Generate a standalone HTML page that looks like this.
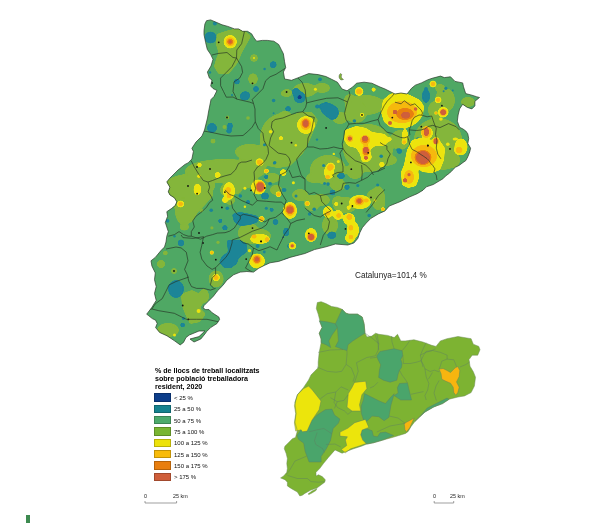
<!DOCTYPE html>
<html><head><meta charset="utf-8"><style>
html,body{margin:0;padding:0;background:#fff;}
.t,.lb,.sc{will-change:transform;}
body{width:609px;height:523px;position:relative;overflow:hidden;font-family:"Liberation Sans",sans-serif;}
.t{position:absolute;white-space:nowrap;color:#222;line-height:1;}
.sw{position:absolute;left:154px;width:17px;height:8.5px;box-sizing:border-box;border:0.5px solid rgba(0,0,0,0.22);}
.lb{position:absolute;left:174px;font-size:6px;line-height:1;color:#111;white-space:nowrap;}
.sc{position:absolute;font-size:5.4px;line-height:1;color:#222;white-space:nowrap;}
</style></head><body>
<svg width="609" height="523" viewBox="0 0 609 523" style="position:absolute;left:0;top:0">
<defs><clipPath id="ct"><polygon points="204.9,24.0 206.5,20.7 210.6,19.9 216.3,22.3 222.0,24.8 227.8,26.4 234.4,28.9 238.5,28.9 242.6,31.3 247.5,31.3 251.6,33.8 254.0,37.9 256.6,41.2 262.3,40.4 267.2,40.4 273.8,41.2 278.7,44.5 281.2,49.4 283.4,53.8 284.6,61.8 285.7,67.6 283.4,72.0 284.6,79.0 291.5,80.3 299.0,77.4 308.7,73.6 318.2,74.6 325.9,76.5 331.6,79.3 337.4,82.2 342.0,89.0 347.0,90.8 352.7,87.0 356.5,83.2 364.1,82.2 371.8,83.2 380.0,87.0 385.0,89.0 395.0,94.0 401.0,93.0 407.0,94.0 411.5,88.3 415.3,85.2 421.4,82.9 427.5,79.9 432.1,78.3 440.5,76.1 444.3,77.6 450.5,76.8 455.0,81.4 462.7,82.9 463.5,86.8 465.7,93.6 471.9,95.2 476.5,96.7 479.5,97.5 474.9,101.3 474.9,105.9 471.9,108.9 467.3,107.4 462.7,104.3 459.6,108.9 458.1,115.0 457.3,121.2 459.6,127.3 463.0,129.0 465.8,131.0 467.8,133.8 468.7,138.6 467.8,143.4 470.6,148.2 469.7,152.0 467.8,156.8 465.8,160.6 463.0,162.5 459.1,165.4 455.3,167.3 452.4,170.2 449.6,173.1 445.7,175.9 442.9,178.8 439.1,181.0 433.3,184.5 426.4,186.8 423.0,190.2 417.2,193.7 409.2,197.1 400.0,201.7 389.3,206.0 385.0,210.9 378.4,213.9 370.7,218.5 366.2,223.1 362.3,227.7 360.0,232.3 357.8,238.4 353.9,243.0 347.8,245.0 335.4,244.0 326.0,246.8 314.4,249.6 304.9,253.5 290.0,257.4 278.7,261.4 270.0,262.8 264.3,265.4 258.9,268.1 253.5,272.1 246.9,271.5 240.2,272.1 233.5,274.8 226.8,280.2 222.8,285.5 217.4,290.9 213.4,296.2 208.0,301.6 204.0,305.6 203.0,308.0 205.7,309.6 209.0,309.6 212.2,312.8 218.8,317.0 219.6,319.4 217.0,323.5 210.6,327.6 206.5,331.7 204.9,334.0 200.8,339.0 194.0,342.0 190.0,339.0 199.0,336.6 204.9,331.0 199.0,331.0 189.3,335.0 186.0,337.5 183.5,342.4 180.2,344.9 174.5,340.8 167.0,335.8 159.7,332.5 155.6,327.6 157.2,323.5 155.6,320.2 152.3,318.6 148.2,315.3 146.7,314.2 151.9,307.3 156.2,300.4 154.5,293.5 156.2,286.6 154.5,279.7 155.3,272.9 151.9,266.0 151.0,260.8 155.3,257.4 161.0,250.5 164.5,247.0 166.0,242.0 166.8,236.2 168.3,231.6 166.8,227.0 165.3,222.4 167.6,216.3 166.8,211.7 171.4,208.6 175.2,205.6 176.8,201.8 174.5,197.9 169.9,194.9 168.3,191.8 169.9,187.2 166.8,181.9 169.9,178.1 173.0,175.0 178.0,170.0 185.0,164.4 188.1,162.9 191.9,159.0 193.4,151.4 191.9,148.3 196.0,142.0 202.0,136.0 204.5,130.0 206.0,124.0 207.5,118.0 208.5,112.0 209.5,107.0 211.0,99.5 214.0,96.5 217.0,90.5 213.0,88.5 210.7,86.0 212.0,80.0 209.4,78.1 207.4,72.1 211.0,66.0 213.0,59.3 210.6,54.3 207.3,49.4 205.7,42.8 204.0,34.6 204.0,30.5"/></clipPath><filter id="goo" x="-10%" y="-10%" width="120%" height="120%"><feGaussianBlur in="SourceGraphic" stdDeviation="1.1"/><feColorMatrix values="1 0 0 0 0  0 1 0 0 0  0 0 1 0 0  0 0 0 7 -2.8"/></filter></defs>
<polygon points="204.9,24.0 206.5,20.7 210.6,19.9 216.3,22.3 222.0,24.8 227.8,26.4 234.4,28.9 238.5,28.9 242.6,31.3 247.5,31.3 251.6,33.8 254.0,37.9 256.6,41.2 262.3,40.4 267.2,40.4 273.8,41.2 278.7,44.5 281.2,49.4 283.4,53.8 284.6,61.8 285.7,67.6 283.4,72.0 284.6,79.0 291.5,80.3 299.0,77.4 308.7,73.6 318.2,74.6 325.9,76.5 331.6,79.3 337.4,82.2 342.0,89.0 347.0,90.8 352.7,87.0 356.5,83.2 364.1,82.2 371.8,83.2 380.0,87.0 385.0,89.0 395.0,94.0 401.0,93.0 407.0,94.0 411.5,88.3 415.3,85.2 421.4,82.9 427.5,79.9 432.1,78.3 440.5,76.1 444.3,77.6 450.5,76.8 455.0,81.4 462.7,82.9 463.5,86.8 465.7,93.6 471.9,95.2 476.5,96.7 479.5,97.5 474.9,101.3 474.9,105.9 471.9,108.9 467.3,107.4 462.7,104.3 459.6,108.9 458.1,115.0 457.3,121.2 459.6,127.3 463.0,129.0 465.8,131.0 467.8,133.8 468.7,138.6 467.8,143.4 470.6,148.2 469.7,152.0 467.8,156.8 465.8,160.6 463.0,162.5 459.1,165.4 455.3,167.3 452.4,170.2 449.6,173.1 445.7,175.9 442.9,178.8 439.1,181.0 433.3,184.5 426.4,186.8 423.0,190.2 417.2,193.7 409.2,197.1 400.0,201.7 389.3,206.0 385.0,210.9 378.4,213.9 370.7,218.5 366.2,223.1 362.3,227.7 360.0,232.3 357.8,238.4 353.9,243.0 347.8,245.0 335.4,244.0 326.0,246.8 314.4,249.6 304.9,253.5 290.0,257.4 278.7,261.4 270.0,262.8 264.3,265.4 258.9,268.1 253.5,272.1 246.9,271.5 240.2,272.1 233.5,274.8 226.8,280.2 222.8,285.5 217.4,290.9 213.4,296.2 208.0,301.6 204.0,305.6 203.0,308.0 205.7,309.6 209.0,309.6 212.2,312.8 218.8,317.0 219.6,319.4 217.0,323.5 210.6,327.6 206.5,331.7 204.9,334.0 200.8,339.0 194.0,342.0 190.0,339.0 199.0,336.6 204.9,331.0 199.0,331.0 189.3,335.0 186.0,337.5 183.5,342.4 180.2,344.9 174.5,340.8 167.0,335.8 159.7,332.5 155.6,327.6 157.2,323.5 155.6,320.2 152.3,318.6 148.2,315.3 146.7,314.2 151.9,307.3 156.2,300.4 154.5,293.5 156.2,286.6 154.5,279.7 155.3,272.9 151.9,266.0 151.0,260.8 155.3,257.4 161.0,250.5 164.5,247.0 166.0,242.0 166.8,236.2 168.3,231.6 166.8,227.0 165.3,222.4 167.6,216.3 166.8,211.7 171.4,208.6 175.2,205.6 176.8,201.8 174.5,197.9 169.9,194.9 168.3,191.8 169.9,187.2 166.8,181.9 169.9,178.1 173.0,175.0 178.0,170.0 185.0,164.4 188.1,162.9 191.9,159.0 193.4,151.4 191.9,148.3 196.0,142.0 202.0,136.0 204.5,130.0 206.0,124.0 207.5,118.0 208.5,112.0 209.5,107.0 211.0,99.5 214.0,96.5 217.0,90.5 213.0,88.5 210.7,86.0 212.0,80.0 209.4,78.1 207.4,72.1 211.0,66.0 213.0,59.3 210.6,54.3 207.3,49.4 205.7,42.8 204.0,34.6 204.0,30.5" fill="#4fa864"/>
<g clip-path="url(#ct)">
<g fill="#84b63a" filter="url(#goo)"><polygon points="216.8,34.1 228.2,30.3 236.8,28.4 245.4,31.3 251.2,36 241.6,53.2 237.8,62.8 232,70 228.2,74.3 218.7,74.3 213.9,66.6 216.8,57 218.7,53.2 215.8,43.7"/><ellipse cx="254.0" cy="58.0" rx="3.8" ry="3.8"/><ellipse cx="253.0" cy="79.0" rx="4.8" ry="5.7"/><ellipse cx="283.7" cy="93.4" rx="2.9" ry="2.9"/><ellipse cx="227.4" cy="117.4" rx="2.2" ry="2.2"/><ellipse cx="213.0" cy="141.0" rx="2.6" ry="2.6"/><ellipse cx="242.7" cy="152.0" rx="6.0" ry="5.0"/><ellipse cx="287.0" cy="93.0" rx="5.0" ry="4.0"/><ellipse cx="305.0" cy="90.0" rx="12.0" ry="7.0"/><ellipse cx="322.0" cy="88.0" rx="8.0" ry="5.0"/><ellipse cx="285.0" cy="115.0" rx="6.0" ry="4.0"/><polygon points="262,130 275,120 290,116 300,112 312,112 318,120 312,135 306,148 298,158 290,166 278,168 268,166 262,156 260,146"/><ellipse cx="256.0" cy="160.0" rx="10.0" ry="8.0"/><ellipse cx="250.0" cy="170.0" rx="16.0" ry="8.0"/><ellipse cx="230.0" cy="172.0" rx="20.0" ry="6.0"/><ellipse cx="210.0" cy="172.0" rx="14.0" ry="7.0"/><ellipse cx="196.0" cy="178.0" rx="10.0" ry="8.0"/><polygon points="172,178 185,174 205,176 212,182 213,196 205,205 198,212 192,222 186,224 182,212 174,208 168,196"/><ellipse cx="184.4" cy="227.0" rx="4.6" ry="3.4"/><ellipse cx="245.0" cy="182.0" rx="14.0" ry="6.0"/><ellipse cx="272.0" cy="178.0" rx="8.0" ry="5.0"/><ellipse cx="365.0" cy="105.0" rx="20.0" ry="10.0"/><ellipse cx="350.0" cy="100.0" rx="6.0" ry="6.0"/><ellipse cx="340.0" cy="118.0" rx="8.0" ry="6.0"/><ellipse cx="392.0" cy="102.0" rx="10.0" ry="6.0"/><ellipse cx="438.0" cy="130.0" rx="14.0" ry="8.0"/><ellipse cx="447.0" cy="148.0" rx="12.0" ry="14.0"/><ellipse cx="425.0" cy="150.0" rx="14.0" ry="16.0"/><ellipse cx="452.0" cy="160.0" rx="8.0" ry="8.0"/><ellipse cx="400.0" cy="140.0" rx="10.0" ry="10.0"/><ellipse cx="385.0" cy="160.0" rx="12.0" ry="6.0"/><ellipse cx="355.0" cy="170.0" rx="10.0" ry="6.0"/><ellipse cx="325.0" cy="178.0" rx="8.0" ry="6.0"/><ellipse cx="276.0" cy="190.0" rx="6.0" ry="5.0"/><ellipse cx="300.0" cy="195.0" rx="8.0" ry="6.0"/><ellipse cx="320.0" cy="200.0" rx="10.0" ry="6.0"/><ellipse cx="345.0" cy="205.0" rx="12.0" ry="8.0"/><ellipse cx="330.0" cy="225.0" rx="8.0" ry="10.0"/><ellipse cx="375.0" cy="195.0" rx="8.0" ry="6.0"/><ellipse cx="380.0" cy="205.0" rx="5.0" ry="4.0"/><ellipse cx="255.0" cy="236.0" rx="16.0" ry="8.0"/><ellipse cx="250.0" cy="230.0" rx="8.0" ry="6.0"/><ellipse cx="237.0" cy="186.0" rx="6.0" ry="8.0"/><ellipse cx="228.0" cy="190.0" rx="8.0" ry="7.0"/><ellipse cx="216.1" cy="279.0" rx="7.5" ry="8.5"/><ellipse cx="204.0" cy="296.0" rx="5.0" ry="7.0"/><ellipse cx="161.0" cy="264.0" rx="4.0" ry="4.0"/><ellipse cx="174.0" cy="271.0" rx="3.0" ry="3.0"/><polygon points="181,294 192,290 200,294 204,302 200,308 206,314 200,322 190,324 186,316 182,306"/><ellipse cx="168.0" cy="330.0" rx="11.0" ry="7.0"/><ellipse cx="165.3" cy="253.0" rx="2.5" ry="2.5"/><ellipse cx="171.4" cy="187.2" rx="2.5" ry="2.5"/><ellipse cx="438.0" cy="140.0" rx="24.0" ry="22.0"/><ellipse cx="440.0" cy="160.0" rx="20.0" ry="10.0"/><ellipse cx="435.0" cy="110.0" rx="7.0" ry="9.0"/><ellipse cx="445.0" cy="100.0" rx="10.0" ry="12.0"/><ellipse cx="468.0" cy="102.0" rx="7.0" ry="5.0"/><ellipse cx="440.0" cy="88.0" rx="5.0" ry="4.0"/><ellipse cx="356.0" cy="112.0" rx="11.0" ry="11.0"/><ellipse cx="368.0" cy="148.0" rx="25.0" ry="24.0"/><ellipse cx="314.0" cy="178.0" rx="8.0" ry="5.0"/><ellipse cx="355.0" cy="172.0" rx="8.0" ry="7.0"/><ellipse cx="312.0" cy="203.0" rx="8.0" ry="8.0"/><ellipse cx="338.0" cy="202.0" rx="6.0" ry="6.0"/><ellipse cx="378.0" cy="198.0" rx="7.0" ry="12.0"/><ellipse cx="249.0" cy="233.0" rx="11.0" ry="10.0"/><ellipse cx="232.0" cy="175.0" rx="8.0" ry="5.0"/><ellipse cx="328.0" cy="170.0" rx="18.0" ry="15.0"/><ellipse cx="338.0" cy="185.0" rx="8.0" ry="6.0"/><ellipse cx="230.0" cy="200.0" rx="5.0" ry="5.0"/><ellipse cx="284.0" cy="138.0" rx="24.0" ry="25.0"/><ellipse cx="254.0" cy="160.0" rx="14.0" ry="15.0"/><ellipse cx="190.0" cy="186.0" rx="25.0" ry="12.0"/><ellipse cx="183.0" cy="211.0" rx="8.0" ry="13.0"/><ellipse cx="225.0" cy="171.0" rx="40.0" ry="12.0"/><ellipse cx="250.0" cy="152.0" rx="15.0" ry="8.0"/></g>
<g fill="#84b63a"><ellipse cx="224.5" cy="127.0" rx="2.0" ry="2.0"/><ellipse cx="248.0" cy="118.0" rx="1.8" ry="1.8"/><ellipse cx="201.2" cy="210.2" rx="2.0" ry="2.0"/><ellipse cx="211.9" cy="227.8" rx="1.6" ry="1.6"/><ellipse cx="218.0" cy="242.3" rx="1.6" ry="1.6"/></g>
<g fill="#1b8597" filter="url(#goo)"><ellipse cx="210.5" cy="37.5" rx="6.0" ry="6.0"/><ellipse cx="273.2" cy="64.7" rx="3.4" ry="3.4"/><ellipse cx="236.8" cy="81.5" rx="3.0" ry="3.0"/><ellipse cx="256.0" cy="89.0" rx="3.0" ry="3.0"/><ellipse cx="245.4" cy="95.4" rx="4.8" ry="4.2"/><ellipse cx="287.5" cy="108.7" rx="2.3" ry="2.3"/><ellipse cx="212.0" cy="128.0" rx="5.0" ry="5.0"/><ellipse cx="230.0" cy="126.0" rx="2.8" ry="3.4"/><ellipse cx="229.0" cy="131.0" rx="2.8" ry="2.6"/><ellipse cx="244.6" cy="96.5" rx="5.0" ry="4.0"/><ellipse cx="299.6" cy="97.3" rx="6.0" ry="6.0"/><ellipse cx="296.0" cy="92.0" rx="4.0" ry="4.0"/><ellipse cx="288.2" cy="108.8" rx="2.75" ry="2.75"/><ellipse cx="317.2" cy="106.5" rx="2.3" ry="2.3"/><polygon points="320,104 326,102 332,104 338,108 339,114 336,119 331,120 327,117 322,113 320,108"/><ellipse cx="426.0" cy="96.0" rx="4.0" ry="7.0"/><ellipse cx="399.4" cy="151.1" rx="2.8" ry="2.8"/><ellipse cx="347.0" cy="187.2" rx="2.75" ry="2.75"/><ellipse cx="332.5" cy="192.5" rx="3.0" ry="3.0"/><ellipse cx="341.0" cy="176.0" rx="4.0" ry="3.0"/><ellipse cx="331.8" cy="235.3" rx="4.6" ry="3.8"/><ellipse cx="265.0" cy="196.0" rx="4.0" ry="3.5"/><polygon points="232,214 240,212 250,214 258,216 258,222 250,225 240,226 234,222"/><ellipse cx="275.5" cy="222.0" rx="3.0" ry="3.0"/><ellipse cx="266.3" cy="176.9" rx="2.3" ry="2.3"/><ellipse cx="248.0" cy="202.1" rx="2.3" ry="2.3"/><ellipse cx="271.6" cy="209.8" rx="2.3" ry="2.3"/><ellipse cx="286.2" cy="232.0" rx="3.0" ry="4.5"/><polygon points="226.8,240 240,240 246.9,244 247,252 240,257 236,262 232,268 224,268 219,262 222,256 228,252"/><ellipse cx="181.0" cy="243.0" rx="3.4" ry="3.4"/><ellipse cx="220.3" cy="220.9" rx="2.3" ry="2.3"/><ellipse cx="224.9" cy="227.8" rx="2.75" ry="2.75"/><ellipse cx="176.0" cy="289.0" rx="8.0" ry="9.0"/><ellipse cx="232.0" cy="260.0" rx="6.0" ry="6.0"/><ellipse cx="182.7" cy="325.0" rx="2.5" ry="2.5"/><ellipse cx="341.8" cy="175.0" rx="2.5" ry="2.5"/></g>
<g fill="#1b8597"><ellipse cx="214.9" cy="23.6" rx="2.0" ry="2.0"/><ellipse cx="264.6" cy="69.0" rx="1.3" ry="1.3"/><ellipse cx="232.0" cy="95.0" rx="1.1" ry="1.1"/><ellipse cx="273.6" cy="100.5" rx="1.8" ry="1.8"/><ellipse cx="210.0" cy="72.4" rx="1.2" ry="1.2"/><ellipse cx="273.6" cy="113.3" rx="1.0" ry="1.0"/><ellipse cx="320.0" cy="79.3" rx="1.9" ry="1.9"/><ellipse cx="354.4" cy="121.0" rx="1.8" ry="1.8"/><ellipse cx="264.5" cy="144.7" rx="1.5" ry="1.5"/><ellipse cx="274.4" cy="163.0" rx="1.5" ry="1.5"/><ellipse cx="426.0" cy="90.0" rx="2.0" ry="3.0"/><ellipse cx="427.5" cy="166.0" rx="1.8" ry="1.8"/><ellipse cx="418.0" cy="139.0" rx="1.8" ry="1.8"/><ellipse cx="381.2" cy="156.2" rx="1.8" ry="1.8"/><ellipse cx="398.0" cy="150.0" rx="1.8" ry="1.8"/><ellipse cx="328.0" cy="184.1" rx="1.8" ry="1.8"/><ellipse cx="357.8" cy="185.6" rx="1.5" ry="1.5"/><ellipse cx="377.6" cy="184.9" rx="1.5" ry="1.5"/><ellipse cx="314.2" cy="209.3" rx="1.8" ry="1.8"/><ellipse cx="309.6" cy="214.0" rx="1.8" ry="1.8"/><ellipse cx="369.2" cy="215.5" rx="1.8" ry="1.8"/><ellipse cx="270.1" cy="183.8" rx="1.8" ry="1.8"/><ellipse cx="240.3" cy="196.0" rx="1.8" ry="1.8"/><ellipse cx="227.3" cy="208.2" rx="1.8" ry="1.8"/><ellipse cx="266.3" cy="208.2" rx="1.5" ry="1.5"/><ellipse cx="257.6" cy="246.0" rx="2.0" ry="2.0"/><ellipse cx="264.3" cy="252.0" rx="1.4" ry="1.4"/><ellipse cx="211.2" cy="210.2" rx="1.8" ry="1.8"/><ellipse cx="167.6" cy="220.9" rx="1.8" ry="1.8"/><ellipse cx="174.5" cy="236.2" rx="1.2" ry="1.2"/><ellipse cx="183.5" cy="318.6" rx="1.5" ry="1.5"/><ellipse cx="288.0" cy="260.0" rx="4.0" ry="2.0"/><ellipse cx="290.0" cy="246.0" rx="3.0" ry="2.0"/><ellipse cx="274.9" cy="162.6" rx="1.5" ry="1.5"/><ellipse cx="265.3" cy="177.0" rx="1.5" ry="1.5"/><ellipse cx="270.0" cy="183.6" rx="1.5" ry="1.5"/><ellipse cx="323.6" cy="165.5" rx="1.5" ry="1.5"/><ellipse cx="324.6" cy="183.6" rx="1.5" ry="1.5"/><ellipse cx="317.0" cy="139.6" rx="1.2" ry="1.2"/><ellipse cx="284.0" cy="190.0" rx="2.5" ry="2.0"/><ellipse cx="296.0" cy="196.0" rx="1.5" ry="1.5"/><ellipse cx="445.9" cy="88.3" rx="1.6" ry="1.6"/><ellipse cx="443.6" cy="91.3" rx="1.0" ry="1.0"/><ellipse cx="452.8" cy="90.6" rx="1.0" ry="1.0"/></g>
<g fill="#0d3f8a" filter="url(#goo)"><ellipse cx="299.6" cy="97.3" rx="2.3" ry="2.3"/></g>
<g fill="#0d3f8a"><ellipse cx="283.1" cy="237.3" rx="0.8" ry="0.8"/></g>
<g fill="#ece40e" filter="url(#goo)"><polygon points="383,100 390,94 398,92 405,93 412,96 420,100 424,106 423,115 418,122 412,126 406,128 398,128 390,127 384,122 381,112"/><ellipse cx="405.0" cy="135.0" rx="3.0" ry="6.0"/><ellipse cx="427.0" cy="133.0" rx="6.0" ry="6.0"/><ellipse cx="436.0" cy="142.0" rx="4.0" ry="5.0"/><polygon points="407,150 412,140 420,138 430,140 440,141 445,148 444,160 440,170 432,173 422,172 418,168 419,178 416,186 408,188 402,185 401,172 404,165"/><polygon points="345,130 356,126 366,128 372,132 385,134 390,140 384,146 375,146 370,150 372,158 368,162 362,162 360,154 356,148 348,146 344,140"/><ellipse cx="381.9" cy="164.6" rx="2.75" ry="2.75"/><ellipse cx="389.6" cy="139.3" rx="2.3" ry="2.3"/><ellipse cx="306.0" cy="125.0" rx="9.0" ry="9.0"/><ellipse cx="329.0" cy="172.0" rx="5.0" ry="7.0"/><ellipse cx="360.0" cy="202.0" rx="11.0" ry="7.0"/><ellipse cx="328.0" cy="212.0" rx="5.0" ry="6.0"/><ellipse cx="338.0" cy="215.0" rx="5.0" ry="5.0"/><ellipse cx="349.0" cy="219.0" rx="6.0" ry="6.0"/><ellipse cx="353.0" cy="230.0" rx="6.0" ry="9.0"/><ellipse cx="350.0" cy="238.0" rx="5.0" ry="5.0"/><ellipse cx="336.3" cy="204.0" rx="2.3" ry="2.3"/><ellipse cx="348.6" cy="207.8" rx="2.3" ry="2.3"/><ellipse cx="311.0" cy="235.0" rx="6.0" ry="7.0"/><ellipse cx="290.0" cy="210.5" rx="7.0" ry="8.5"/><ellipse cx="258.5" cy="187.0" rx="7.5" ry="7.5"/><ellipse cx="229.0" cy="191.0" rx="6.0" ry="9.0"/><ellipse cx="197.4" cy="189.6" rx="3.8" ry="6.0"/><ellipse cx="260.0" cy="239.0" rx="10.0" ry="5.0"/><ellipse cx="257.0" cy="261.0" rx="8.0" ry="7.5"/><ellipse cx="225.0" cy="200.0" rx="3.0" ry="3.0"/><circle cx="230.2" cy="41.8" r="6.70"/><circle cx="359.1" cy="91.5" r="4.40"/><circle cx="373.6" cy="89.6" r="2.30"/><circle cx="362.0" cy="114.9" r="2.30"/><circle cx="438.1" cy="99.9" r="3.40"/><circle cx="433.0" cy="84.0" r="3.60"/><circle cx="443.2" cy="112.2" r="5.40"/><ellipse cx="461.0" cy="147.0" rx="6.5" ry="8.5"/><circle cx="459.1" cy="150.1" r="5.00"/><circle cx="404.2" cy="142.0" r="2.75"/><circle cx="330.7" cy="166.9" r="4.50"/><circle cx="307.3" cy="204.0" r="2.30"/><circle cx="383.0" cy="209.3" r="2.30"/><circle cx="259.0" cy="162.0" r="3.50"/><circle cx="266.0" cy="171.0" r="2.30"/><circle cx="281.0" cy="138.3" r="2.30"/><circle cx="259.9" cy="162.3" r="3.80"/><circle cx="266.8" cy="170.7" r="2.30"/><circle cx="283.6" cy="172.2" r="2.75"/><circle cx="283.4" cy="173.0" r="2.90"/><circle cx="199.5" cy="165.0" r="2.40"/><circle cx="217.7" cy="175.0" r="3.00"/><circle cx="180.6" cy="204.0" r="3.60"/><circle cx="217.3" cy="175.8" r="2.30"/><circle cx="216.1" cy="277.5" r="3.75"/><circle cx="261.7" cy="218.9" r="3.00"/><circle cx="278.5" cy="194.2" r="3.00"/><circle cx="266.3" cy="171.5" r="2.30"/><circle cx="283.1" cy="172.3" r="3.00"/><circle cx="292.3" cy="245.7" r="3.80"/><circle cx="307.2" cy="203.4" r="2.70"/></g>
<g fill="#ece40e"><ellipse cx="447.8" cy="144.3" rx="1.8" ry="1.8"/><ellipse cx="455.4" cy="138.9" rx="2.75" ry="1.5"/><ellipse cx="405.7" cy="134.3" rx="1.8" ry="1.8"/><ellipse cx="338.3" cy="161.5" rx="1.5" ry="1.5"/><ellipse cx="333.8" cy="153.9" rx="1.2" ry="1.2"/><circle cx="315.4" cy="89.3" r="1.50"/><circle cx="436.0" cy="113.0" r="1.80"/><circle cx="440.9" cy="119.0" r="1.80"/><circle cx="394.2" cy="112.6" r="1.00"/><circle cx="375.0" cy="200.5" r="1.20"/><circle cx="270.6" cy="131.7" r="1.80"/><circle cx="295.8" cy="145.2" r="1.20"/><circle cx="293.4" cy="182.7" r="1.50"/><circle cx="198.9" cy="176.2" r="1.80"/><circle cx="211.8" cy="252.7" r="2.00"/><circle cx="249.5" cy="250.7" r="1.60"/><circle cx="244.9" cy="188.3" r="1.50"/><circle cx="244.9" cy="206.7" r="1.20"/><circle cx="211.9" cy="252.2" r="1.80"/><circle cx="254.0" cy="58.0" r="1.00"/><circle cx="198.6" cy="311.0" r="2.00"/><circle cx="174.5" cy="335.0" r="1.50"/></g>
<g fill="#f6b90f" filter="url(#goo)"><ellipse cx="402.0" cy="112.0" rx="15.0" ry="11.0"/><ellipse cx="426.3" cy="132.0" rx="5.0" ry="6.0"/><ellipse cx="424.0" cy="156.0" rx="13.0" ry="11.0"/><ellipse cx="409.0" cy="177.0" rx="5.0" ry="7.0"/><ellipse cx="436.0" cy="141.0" rx="3.5" ry="3.5"/><ellipse cx="349.8" cy="138.6" rx="3.5" ry="3.5"/><ellipse cx="365.1" cy="140.0" rx="5.0" ry="5.0"/><ellipse cx="365.9" cy="151.0" rx="4.0" ry="6.0"/><ellipse cx="305.7" cy="124.0" rx="5.4" ry="6.0"/><ellipse cx="329.6" cy="168.0" rx="2.5" ry="3.0"/><ellipse cx="327.6" cy="177.0" rx="2.5" ry="2.5"/><ellipse cx="359.3" cy="201.0" rx="5.0" ry="4.5"/><ellipse cx="327.9" cy="213.2" rx="2.5" ry="2.5"/><ellipse cx="338.6" cy="215.5" rx="2.5" ry="2.5"/><ellipse cx="349.3" cy="217.0" rx="3.0" ry="3.0"/><ellipse cx="350.9" cy="227.7" rx="2.5" ry="3.0"/><ellipse cx="350.9" cy="236.9" rx="2.5" ry="2.5"/><ellipse cx="311.1" cy="236.9" rx="4.5" ry="4.5"/><ellipse cx="290.0" cy="210.0" rx="5.0" ry="6.0"/><ellipse cx="260.2" cy="186.8" rx="5.0" ry="6.0"/><ellipse cx="228.1" cy="189.9" rx="3.0" ry="3.0"/><ellipse cx="229.0" cy="196.0" rx="2.5" ry="2.5"/><ellipse cx="267.0" cy="239.6" rx="2.5" ry="2.5"/><ellipse cx="256.9" cy="259.4" rx="4.7" ry="4.7"/><circle cx="230.2" cy="41.8" r="4.56"/><circle cx="359.1" cy="91.5" r="2.99"/><circle cx="438.1" cy="99.9" r="2.31"/><circle cx="433.0" cy="84.0" r="2.45"/><circle cx="443.2" cy="112.2" r="3.67"/><circle cx="459.1" cy="150.1" r="3.40"/><circle cx="330.7" cy="166.9" r="3.06"/><circle cx="259.0" cy="162.0" r="2.38"/><circle cx="259.9" cy="162.3" r="2.58"/><circle cx="180.6" cy="204.0" r="2.45"/><circle cx="216.1" cy="277.5" r="2.55"/><circle cx="292.3" cy="245.7" r="2.47"/></g>
<g fill="#f6b90f"><ellipse cx="366.2" cy="200.5" rx="2.5" ry="2.0"/><ellipse cx="254.0" cy="236.5" rx="2.5" ry="2.0"/><circle cx="436.0" cy="113.0" r="1.22"/><circle cx="404.2" cy="142.0" r="1.87"/><circle cx="307.3" cy="204.0" r="1.56"/><circle cx="383.0" cy="209.3" r="1.56"/><circle cx="266.0" cy="171.0" r="1.56"/><circle cx="266.8" cy="170.7" r="1.56"/><circle cx="211.8" cy="252.7" r="1.36"/><circle cx="261.7" cy="218.9" r="2.04"/><circle cx="278.5" cy="194.2" r="2.04"/><circle cx="307.2" cy="203.4" r="1.84"/></g>
<g fill="#e8800f" filter="url(#goo)"><ellipse cx="405.0" cy="114.0" rx="9.0" ry="6.0"/><ellipse cx="423.0" cy="157.5" rx="8.5" ry="7.5"/><ellipse cx="365.1" cy="139.5" rx="3.5" ry="3.5"/><ellipse cx="365.9" cy="151.0" rx="3.0" ry="4.5"/><ellipse cx="305.7" cy="123.5" rx="3.8" ry="4.5"/><ellipse cx="311.1" cy="236.9" rx="3.5" ry="3.5"/><ellipse cx="290.0" cy="209.8" rx="4.2" ry="4.5"/><ellipse cx="260.2" cy="186.8" rx="4.4" ry="5.2"/><ellipse cx="256.9" cy="259.4" rx="3.5" ry="3.5"/><ellipse cx="359.3" cy="201.0" rx="3.5" ry="3.0"/><circle cx="230.2" cy="41.8" r="3.02"/><circle cx="443.2" cy="112.2" r="2.43"/></g>
<g fill="#cf5e3a" filter="url(#goo)"><ellipse cx="405.7" cy="115.2" rx="4.6" ry="3.4"/><ellipse cx="395.0" cy="112.0" rx="2.5" ry="2.5"/><ellipse cx="426.3" cy="132.0" rx="2.6" ry="4.2"/><ellipse cx="423.0" cy="157.5" rx="7.0" ry="6.5"/><ellipse cx="405.1" cy="180.4" rx="2.3" ry="2.3"/><ellipse cx="349.8" cy="138.6" rx="2.3" ry="2.3"/><ellipse cx="365.1" cy="138.6" rx="3.0" ry="3.0"/><ellipse cx="365.9" cy="150.0" rx="2.75" ry="3.2"/><ellipse cx="365.9" cy="157.7" rx="2.3" ry="2.3"/><ellipse cx="305.7" cy="123.5" rx="2.8" ry="3.6"/><ellipse cx="359.3" cy="200.9" rx="2.3" ry="2.3"/><ellipse cx="311.1" cy="236.9" rx="3.0" ry="3.0"/><ellipse cx="290.0" cy="209.8" rx="3.5" ry="3.2"/><ellipse cx="260.2" cy="186.8" rx="3.6" ry="4.3"/><ellipse cx="256.9" cy="259.4" rx="2.4" ry="2.4"/><ellipse cx="443.2" cy="112.2" rx="3.0" ry="3.0"/></g>
<g fill="#cf5e3a"><ellipse cx="415.6" cy="109.0" rx="1.8" ry="1.8"/><ellipse cx="390.0" cy="123.0" rx="2.0" ry="2.0"/><ellipse cx="435.6" cy="141.3" rx="2.0" ry="3.0"/><ellipse cx="409.0" cy="174.7" rx="1.6" ry="1.6"/><circle cx="230.2" cy="41.8" r="1.68"/><circle cx="443.2" cy="112.2" r="1.35"/><circle cx="292.3" cy="245.7" r="1.52"/></g>
<circle cx="218.7" cy="42.3" r="0.9" fill="#111"/><circle cx="252.5" cy="83.3" r="0.9" fill="#111"/><circle cx="286.6" cy="92.0" r="0.9" fill="#111"/><circle cx="212.0" cy="83.0" r="0.9" fill="#111"/><circle cx="227.0" cy="117.5" r="0.9" fill="#111"/><circle cx="362.0" cy="114.9" r="0.9" fill="#111"/><circle cx="392.3" cy="117.6" r="0.9" fill="#111"/><circle cx="441.9" cy="105.7" r="0.9" fill="#111"/><circle cx="421.3" cy="126.7" r="0.9" fill="#111"/><circle cx="427.9" cy="145.4" r="0.9" fill="#111"/><circle cx="450.0" cy="148.9" r="0.9" fill="#111"/><circle cx="410.9" cy="162.4" r="0.9" fill="#111"/><circle cx="427.8" cy="145.7" r="0.9" fill="#111"/><circle cx="368.2" cy="152.8" r="0.9" fill="#111"/><circle cx="351.3" cy="169.2" r="0.9" fill="#111"/><circle cx="326.1" cy="127.9" r="0.9" fill="#111"/><circle cx="291.5" cy="142.7" r="0.9" fill="#111"/><circle cx="371.0" cy="197.4" r="0.9" fill="#111"/><circle cx="341.7" cy="203.5" r="0.9" fill="#111"/><circle cx="352.4" cy="206.0" r="0.9" fill="#111"/><circle cx="345.5" cy="228.9" r="0.9" fill="#111"/><circle cx="308.8" cy="233.4" r="0.9" fill="#111"/><circle cx="251.0" cy="190.3" r="0.9" fill="#111"/><circle cx="264.8" cy="188.0" r="0.9" fill="#111"/><circle cx="261.2" cy="241.4" r="0.9" fill="#111"/><circle cx="252.5" cy="228.1" r="0.9" fill="#111"/><circle cx="197.1" cy="193.7" r="0.9" fill="#111"/><circle cx="224.9" cy="192.1" r="0.9" fill="#111"/><circle cx="221.9" cy="207.4" r="0.9" fill="#111"/><circle cx="215.8" cy="259.7" r="0.9" fill="#111"/><circle cx="246.2" cy="259.1" r="0.9" fill="#111"/><circle cx="260.9" cy="241.3" r="0.9" fill="#111"/><circle cx="182.7" cy="305.5" r="0.9" fill="#111"/><circle cx="188.4" cy="319.4" r="0.9" fill="#111"/><circle cx="174.0" cy="271.0" r="0.9" fill="#111"/><circle cx="199.0" cy="233.0" r="0.9" fill="#111"/><circle cx="203.0" cy="243.0" r="0.9" fill="#111"/><circle cx="188.0" cy="186.0" r="0.9" fill="#111"/><circle cx="210.0" cy="169.0" r="0.9" fill="#111"/><circle cx="197.0" cy="167.0" r="0.9" fill="#111"/>
<polyline points="212,55 218,53.5 227,52.5 233,57.5 236.5,58" fill="none" stroke="#263326" stroke-width="0.7" stroke-linejoin="round" opacity="0.95"/>
<polyline points="236.5,58 236.8,50 241.6,43.7 244.5,31.3" fill="none" stroke="#263326" stroke-width="0.7" stroke-linejoin="round" opacity="0.95"/>
<polyline points="236.5,58 241.6,66.6 242.6,72.4 239.7,78.1 234,81.9 233,91.5 236.8,99.1 249.3,102 253.5,103.5 255,109 255,115 255.3,121.8 252.2,127.1 247.6,131.7 243,135.5 231,136 221.7,134.6 211,132.3 203.5,131" fill="none" stroke="#263326" stroke-width="0.7" stroke-linejoin="round" opacity="0.95"/>
<polyline points="236.5,58 232,66.6 226.3,72.4 220.6,78.1 220.6,85.7 223.5,91.5 226.3,97.2 233,97 236.8,99.1" fill="none" stroke="#263326" stroke-width="0.7" stroke-linejoin="round" opacity="0.95"/>
<polyline points="253.5,103.5 252.2,99.5 256.2,95.5 262.9,88.8 265.6,80.8 270,76.8 276,74.3 281.8,70.5 285.5,68" fill="none" stroke="#263326" stroke-width="0.7" stroke-linejoin="round" opacity="0.95"/>
<polyline points="255.3,121.8 258.3,128.6 262.9,133.2 264,140.5 268,147.8 268.5,153.5 266,159.3 262,164 257.4,167 254,172 254.5,178 254,182.2 255.6,188.3 254,194.5 257.1,200.6 266.3,201.3 275.5,202.1 281.6,202.1 284.6,205.2" fill="none" stroke="#263326" stroke-width="0.7" stroke-linejoin="round" opacity="0.95"/>
<polyline points="297.5,77.6 302.1,82.2 305.2,89.9 305.9,97.5 306.7,102.9 305.7,107.2 302.7,111.8 296.6,112.6 290.5,114.9 282.8,118 275.2,119.5 272.1,121.8 271.3,127.1 273.6,131.7 270.6,137.8 269,145.5 278.2,153.1 285.9,154.6 289,157.7 290.5,162.3 289,166.9 286,172 280,175 279.3,179.2 278.5,185.3 281.6,193 286.2,200.6 284.6,205.2" fill="none" stroke="#263326" stroke-width="0.7" stroke-linejoin="round" opacity="0.95"/>
<polyline points="306.7,102.9 315.9,100.6 326.6,98.3 338,97.8 347.5,101.9 346,107.2 344.5,113.3 346,119.5 349,124 346.8,127.9 344.5,130.9 343.7,137.8 342.2,143.9 343,148.5 339.9,153.1 341.4,159.2 343,166.9 343,172 337.1,172.6 332.5,174.9 334.1,177.2" fill="none" stroke="#263326" stroke-width="0.7" stroke-linejoin="round" opacity="0.95"/>
<polyline points="347.5,101.9 350,95 349,91" fill="none" stroke="#263326" stroke-width="0.7" stroke-linejoin="round" opacity="0.95"/>
<polyline points="302.7,111.8 308.2,115.9 314.3,117.4 313,123 311.5,131 308,138 307.3,147 301.2,153.1 296.6,159.2 298.1,165.3 301.2,175 305,179.2 305,190.2 309.6,194.1 314.2,192.5 320.3,195.6 328,194.1 335.6,192.5 341.7,189.5 343.2,183.3 349.3,182.6 355.5,183.3 361.6,180.3 362.3,172.6 361.6,165" fill="none" stroke="#263326" stroke-width="0.7" stroke-linejoin="round" opacity="0.95"/>
<polyline points="289,170 292.3,177.6 299.9,176.1 305,179.2" fill="none" stroke="#263326" stroke-width="0.7" stroke-linejoin="round" opacity="0.95"/>
<polyline points="307.3,147 313.4,147 320,149 327.6,148.5 333.8,147 339.9,148.5 343,148.5" fill="none" stroke="#263326" stroke-width="0.7" stroke-linejoin="round" opacity="0.95"/>
<polyline points="361.6,180.3 367.7,177.2 372.3,172.6 378.4,171.1 385,168.1" fill="none" stroke="#263326" stroke-width="0.7" stroke-linejoin="round" opacity="0.95"/>
<polyline points="243.3,214.3 251,215.9 255.6,217.4 264.8,222 269.3,218.9 275.5,217.4 281.6,212.8 284.6,208.2 284.6,205.2" fill="none" stroke="#263326" stroke-width="0.7" stroke-linejoin="round" opacity="0.95"/>
<polyline points="225,189.9 229.6,194.5 234.2,196 241.8,200.6 252.5,205.2 257.1,200.6" fill="none" stroke="#263326" stroke-width="0.7" stroke-linejoin="round" opacity="0.95"/>
<polyline points="231.1,200.6 232.6,208.2 237.2,214.3 240.3,215.9 243.3,214.3" fill="none" stroke="#263326" stroke-width="0.7" stroke-linejoin="round" opacity="0.95"/>
<polyline points="240.3,215.9 240.3,218.9 237.2,223.5 234.2,228.1 229.6,231.2 225,232.7 217.3,233.1 212.7,234.6 206.6,236.2 200.5,239.2 191.3,236.2 188.2,236.2 183.6,234.6 179,231.6 174.5,234.6 168.3,236.2" fill="none" stroke="#263326" stroke-width="0.7" stroke-linejoin="round" opacity="0.95"/>
<polyline points="269.3,218.9 266.3,225 261.7,228.1 257.1,229.6 252.5,231.2 240.3,237.3" fill="none" stroke="#263326" stroke-width="0.7" stroke-linejoin="round" opacity="0.95"/>
<polyline points="281.6,212.8 286.2,217.4 290.7,223.5 289.2,228.1 284.6,234.2 281.6,240.3 278.5,246.5 277,250" fill="none" stroke="#263326" stroke-width="0.7" stroke-linejoin="round" opacity="0.95"/>
<polyline points="290.7,223.5 296.9,220.5 305,218.9" fill="none" stroke="#263326" stroke-width="0.7" stroke-linejoin="round" opacity="0.95"/>
<polyline points="320.3,195.6 321.8,201.7 331,210.9 324.9,213.9 320.3,217 314.2,215.5 308.1,210.9 305,207.8" fill="none" stroke="#263326" stroke-width="0.7" stroke-linejoin="round" opacity="0.95"/>
<polyline points="324.9,213.9 329.5,221.6 328,229.2 323.3,235.3 320.3,245" fill="none" stroke="#263326" stroke-width="0.7" stroke-linejoin="round" opacity="0.95"/>
<polyline points="385,189.5 378.4,195.6 372.3,204.8 366.2,212.4" fill="none" stroke="#263326" stroke-width="0.7" stroke-linejoin="round" opacity="0.95"/>
<polyline points="349,124 356.7,123.3 364.3,123.3 372,121 378.1,119.5 381.2,111.8 384.2,105.7 387.3,101.1 391.9,96.5 394,94" fill="none" stroke="#263326" stroke-width="0.7" stroke-linejoin="round" opacity="0.95"/>
<polyline points="343,148.5 346,153 352,158 355.2,160.7 359.8,162.3 365.9,165.3 370.5,169.9 373.5,175" fill="none" stroke="#263326" stroke-width="0.7" stroke-linejoin="round" opacity="0.95"/>
<polyline points="395,102.2 401.1,103.8 404.2,100.7 410.3,105.3 414.9,103.8 421,109.9 422.5,112.9 421.8,115.2 427.1,116.8 431.7,116 433.2,120.6 434.8,125.2 436.3,128.2" fill="none" stroke="#263326" stroke-width="0.7" stroke-linejoin="round" opacity="0.95"/>
<polyline points="436.3,128.2 435.5,134.3 437,140.5 436.3,148.1 437.8,154.2 440.9,158.8" fill="none" stroke="#263326" stroke-width="0.7" stroke-linejoin="round" opacity="0.95"/>
<polyline points="191.1,160.6 194.2,166.7 198.8,174.3 203.3,180.5 208,182 212.5,180.5 220.2,177.4 224.8,175.9 230.9,174.3 235.5,169.8 238.5,163.6 241.6,162.1 246,162 252,160" fill="none" stroke="#263326" stroke-width="0.7" stroke-linejoin="round" opacity="0.95"/>
<polyline points="208,182 209.6,187.2 208.1,191.8 211.2,196.4 212.7,200.2 209.6,202.5 206.6,207.1 202,211.7 195.9,216.3 192.8,220.9 194.3,227 191.3,231.6 191.3,236.2" fill="none" stroke="#263326" stroke-width="0.7" stroke-linejoin="round" opacity="0.95"/>
<polyline points="240.2,240 242.8,242.7 248.2,244 253.5,248 258.9,250.7 266.9,248 270,246.7 277,250" fill="none" stroke="#263326" stroke-width="0.7" stroke-linejoin="round" opacity="0.95"/>
<polyline points="253.5,248 252.2,254.7 245.5,268.1 252.2,272.1" fill="none" stroke="#263326" stroke-width="0.7" stroke-linejoin="round" opacity="0.95"/>
<polyline points="166,249 176,247 181.1,247.9 186.3,252.2 188,260.8 184.6,269.4 187.2,274.6 188.9,281.5 191.5,286.6 196.6,288.4 203.5,288.4 210.4,290.1 215.6,288.4" fill="none" stroke="#263326" stroke-width="0.7" stroke-linejoin="round" opacity="0.95"/>
<polyline points="188.9,277 176,281.5 169.1,284.9 165.7,291.8 162.2,298.7 155.3,303.8 151.9,309" fill="none" stroke="#263326" stroke-width="0.7" stroke-linejoin="round" opacity="0.95"/>
<polyline points="203.5,236.7 201.8,245.3 200.1,252.2 201.8,259.1 207,266 212.1,269.4 215.6,267.7 220.7,262.5 225.9,257.4 229.3,252.2 232.1,242.7 232.1,240 240.3,237.3" fill="none" stroke="#263326" stroke-width="0.7" stroke-linejoin="round" opacity="0.95"/>
<polyline points="215.6,267.7 215.6,274.6 212.1,278 210.4,284.9 213.8,288.4" fill="none" stroke="#263326" stroke-width="0.7" stroke-linejoin="round" opacity="0.95"/>
<polyline points="148,310 151.9,309 158.8,310.7 174.3,313.3 186.3,319.3 196.6,319.3 207,319.3 219,321.9" fill="none" stroke="#263326" stroke-width="0.7" stroke-linejoin="round" opacity="0.95"/>
<polyline points="181.1,235 182.9,237.6 193.2,238.4 203.5,236.7" fill="none" stroke="#263326" stroke-width="0.7" stroke-linejoin="round" opacity="0.95"/>
<polyline points="378.1,119.5 380,125.3 383.4,128.8 386.9,132.2 391.5,133.3 396,135.6 400.6,137.4 404.1,137.9 407.5,136.8 409.8,134.5 409.2,129.9 411,125.3 412.1,120.7 414.4,117.3 419,115 421.8,115.2" fill="none" stroke="#263326" stroke-width="0.7" stroke-linejoin="round" opacity="0.95"/>
<polyline points="407.5,136.8 408.7,140.2 409.8,144.8 412.1,149.4 416.7,151.7 420.1,154 423.6,156.3 427,158.6 429.3,160.9 430.5,163.2 432.8,165.5 435,168.9 433.9,172.3 436.2,175 437,180" fill="none" stroke="#263326" stroke-width="0.7" stroke-linejoin="round" opacity="0.95"/>
<polyline points="409.2,129.9 416.7,130.5 421.3,129.9 424.7,128.8 428.2,126.5 432.8,125.3 436.2,126.5 440,127.6 448.5,123.6 456.2,126.7 459.2,129.8" fill="none" stroke="#263326" stroke-width="0.7" stroke-linejoin="round" opacity="0.95"/>
<polyline points="380,142.5 383.4,144.8 386.9,146 386.9,149.4 390.3,154 388,158.6 386.9,163.2 384.6,166.6 380,168.9 378.1,171.5" fill="none" stroke="#263326" stroke-width="0.7" stroke-linejoin="round" opacity="0.95"/>
</g>
<polygon points="204.9,24.0 206.5,20.7 210.6,19.9 216.3,22.3 222.0,24.8 227.8,26.4 234.4,28.9 238.5,28.9 242.6,31.3 247.5,31.3 251.6,33.8 254.0,37.9 256.6,41.2 262.3,40.4 267.2,40.4 273.8,41.2 278.7,44.5 281.2,49.4 283.4,53.8 284.6,61.8 285.7,67.6 283.4,72.0 284.6,79.0 291.5,80.3 299.0,77.4 308.7,73.6 318.2,74.6 325.9,76.5 331.6,79.3 337.4,82.2 342.0,89.0 347.0,90.8 352.7,87.0 356.5,83.2 364.1,82.2 371.8,83.2 380.0,87.0 385.0,89.0 395.0,94.0 401.0,93.0 407.0,94.0 411.5,88.3 415.3,85.2 421.4,82.9 427.5,79.9 432.1,78.3 440.5,76.1 444.3,77.6 450.5,76.8 455.0,81.4 462.7,82.9 463.5,86.8 465.7,93.6 471.9,95.2 476.5,96.7 479.5,97.5 474.9,101.3 474.9,105.9 471.9,108.9 467.3,107.4 462.7,104.3 459.6,108.9 458.1,115.0 457.3,121.2 459.6,127.3 463.0,129.0 465.8,131.0 467.8,133.8 468.7,138.6 467.8,143.4 470.6,148.2 469.7,152.0 467.8,156.8 465.8,160.6 463.0,162.5 459.1,165.4 455.3,167.3 452.4,170.2 449.6,173.1 445.7,175.9 442.9,178.8 439.1,181.0 433.3,184.5 426.4,186.8 423.0,190.2 417.2,193.7 409.2,197.1 400.0,201.7 389.3,206.0 385.0,210.9 378.4,213.9 370.7,218.5 366.2,223.1 362.3,227.7 360.0,232.3 357.8,238.4 353.9,243.0 347.8,245.0 335.4,244.0 326.0,246.8 314.4,249.6 304.9,253.5 290.0,257.4 278.7,261.4 270.0,262.8 264.3,265.4 258.9,268.1 253.5,272.1 246.9,271.5 240.2,272.1 233.5,274.8 226.8,280.2 222.8,285.5 217.4,290.9 213.4,296.2 208.0,301.6 204.0,305.6 203.0,308.0 205.7,309.6 209.0,309.6 212.2,312.8 218.8,317.0 219.6,319.4 217.0,323.5 210.6,327.6 206.5,331.7 204.9,334.0 200.8,339.0 194.0,342.0 190.0,339.0 199.0,336.6 204.9,331.0 199.0,331.0 189.3,335.0 186.0,337.5 183.5,342.4 180.2,344.9 174.5,340.8 167.0,335.8 159.7,332.5 155.6,327.6 157.2,323.5 155.6,320.2 152.3,318.6 148.2,315.3 146.7,314.2 151.9,307.3 156.2,300.4 154.5,293.5 156.2,286.6 154.5,279.7 155.3,272.9 151.9,266.0 151.0,260.8 155.3,257.4 161.0,250.5 164.5,247.0 166.0,242.0 166.8,236.2 168.3,231.6 166.8,227.0 165.3,222.4 167.6,216.3 166.8,211.7 171.4,208.6 175.2,205.6 176.8,201.8 174.5,197.9 169.9,194.9 168.3,191.8 169.9,187.2 166.8,181.9 169.9,178.1 173.0,175.0 178.0,170.0 185.0,164.4 188.1,162.9 191.9,159.0 193.4,151.4 191.9,148.3 196.0,142.0 202.0,136.0 204.5,130.0 206.0,124.0 207.5,118.0 208.5,112.0 209.5,107.0 211.0,99.5 214.0,96.5 217.0,90.5 213.0,88.5 210.7,86.0 212.0,80.0 209.4,78.1 207.4,72.1 211.0,66.0 213.0,59.3 210.6,54.3 207.3,49.4 205.7,42.8 204.0,34.6 204.0,30.5" fill="none" stroke="#2a3a2a" stroke-width="0.7"/>
<path d="M340.5,73.5 C338.5,75 338.5,78.5 341,80 L343.5,79.5 C341.5,78.5 340.5,76.5 341.8,74.5 Z" fill="#84b63a" stroke="#2a3a2a" stroke-width="0.4"/>
<polygon points="317.3,302.6 321.1,301.7 325.9,303.6 331.6,306.5 337.4,307.4 342.1,309.3 346.0,313.2 348.8,314.1 357.4,314.1 362.2,317.0 364.1,323.7 365.0,333.2 367.0,337.0 371.8,336.1 375.6,333.2 378.8,334.3 387.6,335.4 394.2,337.6 397.5,334.3 400.8,340.9 405.2,340.9 414.0,339.8 422.8,342.0 431.6,345.3 436.0,346.4 440.4,340.9 447.0,338.7 458.0,336.5 471.1,338.7 473.3,344.2 478.8,346.4 480.0,349.7 477.7,355.2 472.2,355.2 469.0,359.6 470.0,366.2 473.3,371.7 475.5,377.2 474.4,386.0 471.1,392.6 464.5,395.9 458.0,397.0 449.2,399.2 442.6,403.6 433.8,406.9 425.0,412.0 419.0,417.5 414.9,421.4 410.9,426.8 408.2,431.4 405.6,433.4 398.9,435.5 392.2,437.5 382.8,440.1 373.4,442.8 366.8,444.1 361.4,446.2 353.4,448.8 348.0,450.8 342.1,453.2 335.0,449.9 328.4,457.4 323.4,463.6 319.7,468.5 316.0,472.3 316.0,476.0 318.5,474.8 322.2,476.6 325.3,479.7 324.7,482.2 317.2,487.8 310.4,490.3 304.8,493.4 302.3,495.2 299.8,495.9 297.4,492.1 291.1,488.4 287.4,485.9 287.4,482.2 285.0,479.7 280.6,477.9 283.7,476.0 286.8,472.3 287.4,468.5 286.8,463.6 287.4,458.6 286.2,453.6 284.3,448.7 284.9,446.2 288.7,442.5 292.4,438.7 295.5,437.5 297.4,430.8 294.9,422.1 296.1,413.5 294.9,402.3 297.4,394.8 303.6,387.4 308.6,380.0 311.0,375.0 314.4,371.5 318.2,367.7 318.2,362.0 319.2,352.4 321.1,342.8 321.1,339.0 319.2,333.2 322.1,327.5 320.2,321.8 318.2,314.1 316.3,308.4" fill="#7db332"/>
<polygon points="319.2,320.8 326.8,321.8 335.4,323.7 337.4,327.5 332,335 328.8,341 330.7,347.6 326,344.7 321.1,342.8 321.1,339 319.2,333.2 322.1,327.5" fill="#4aa56b" stroke="#5f8060" stroke-width="0.45"/>
<polygon points="342.1,309.3 346,313.2 348.8,314.1 357.4,314.1 362.2,317 364.1,323.7 365,333.2 360.3,336.1 352.7,341 348,344.7 347,350.5 343.1,349.5 335.4,346.6 338.4,341 337.4,327.5 335.4,323.7" fill="#4aa56b" stroke="#5f8060" stroke-width="0.45"/>
<polygon points="376.7,356.1 380,351.4 387.4,350.1 394.1,348.7 402.1,350.7 402.8,355.4 400.8,359.5 402.1,363.5 401.5,367.5 399.5,370.2 398.1,374.2 396.8,380.2 390.1,382.2 383.4,380.2 378.7,377.5 379.4,370.2 380.7,364.8 378,359.5" fill="#4aa56b" stroke="#5f8060" stroke-width="0.45"/>
<polygon points="399.5,383.5 407.5,382.9 408.8,388.9 410.2,394.3 411.5,400 400.8,400 394.1,395.6 398.1,392.9 397.4,387.6" fill="#4aa56b" stroke="#5f8060" stroke-width="0.45"/>
<polygon points="361.4,405.4 363.4,400 364.4,393.6 371.9,397.3 379.3,401 385.5,403.5 390,398 394.2,393.7 391,405 388.8,417.4 384.1,420.7 378.8,416.7 372.1,416.1 366.8,421.4 363.4,419.4 361.4,413.4" fill="#4aa56b" stroke="#5f8060" stroke-width="0.45"/>
<polygon points="297,435.2 301.1,429.8 306.4,431.8 311.8,420.4 317.1,415.1 325.2,409.7 331.9,409.1 334.5,415.1 339.9,419.1 338.5,423.1 333.2,428.5 331.9,433.8 330.5,440.5 326.5,448.5 323.8,452.6 321.1,456.6 321.1,462 309.1,462 305.1,451.2 303.7,443.2 298.4,439.2" fill="#4aa56b" stroke="#5f8060" stroke-width="0.45"/>
<polygon points="362.1,429.4 366.8,428.8 372.1,430.8 373.4,436.1 377.5,436.8 380.1,432.8 385.5,432.1 393.5,435.5 382.8,440.1 373.4,442.8 366.8,444.1 362.1,440.1 360.7,434.8" fill="#4aa56b" stroke="#5f8060" stroke-width="0.45"/>
<polygon points="414.9,421.4 419,417.5 427.2,408 447,398.1 449.2,399.2 442.6,403.6 433.8,406.9 425,412 419,417.5" fill="#4aa56b" stroke="#5f8060" stroke-width="0.45"/>
<polygon points="308.6,386.1 312.3,389.9 321,401 319.1,409.7 311.8,420.4 307.1,431.1 302.4,431.8 301.1,429.8 295.7,431.1 294.4,423.1 295.7,413.7 294.4,405.7 297.4,394.8 303.6,388.6" fill="#ece50c" stroke="#5f8060" stroke-width="0.45"/>
<polygon points="354.5,382.4 365.7,381.2 366.9,388.6 361.9,394.8 359.5,404.8 360.7,411 352,411 347,407.2 348.3,393.6 352,387.4" fill="#ece50c" stroke="#5f8060" stroke-width="0.45"/>
<polygon points="340,432.1 348,428.1 354.7,422.7 365.4,419.4 368.8,427.4 362.1,430.1 360.7,434.8 362.7,440.1 366.1,443.5 358.7,446.2 350.7,448.8 345.4,452.8 341.3,449.5 346.7,445.5 345.4,440.1 347.4,436.8 340,436.1" fill="#ece50c" stroke="#5f8060" stroke-width="0.45"/>
<polygon points="439.1,369.1 443.1,368.5 447.1,370.5 450.5,372.5 455.2,367.8 457.8,366.5 459.8,370.5 459.2,376.5 456.5,381.9 459.2,387.2 457.8,392.6 455.8,395.2 453.8,392.6 453.2,387.2 450.5,383.2 445.8,381.2 441.8,379.2 441.1,373.8" fill="#f7b50f" stroke="#5f8060" stroke-width="0.45"/>
<polygon points="404.2,423.4 414.2,418.1 409.6,428.1 406.2,432.1 404.9,429.4" fill="#f7b50f" stroke="#5f8060" stroke-width="0.45"/>
<polyline points="316.9,367 327.2,371.3 335.8,372.2 341.8,371.3 346.1,364.4 347,354.1 347,350.5" fill="none" stroke="#5f8060" stroke-width="0.45"/>
<polyline points="346.1,364.4 351.3,367.9 354.7,376.5 353,381.6" fill="none" stroke="#5f8060" stroke-width="0.45"/>
<polyline points="356.5,362.7 366.8,357.5 375.4,355.8 378,350.7 378.8,343.8 377,334.3" fill="none" stroke="#5f8060" stroke-width="0.45"/>
<polyline points="356.5,362.7 358.2,371.3 356.5,376.5 354.5,382.4" fill="none" stroke="#5f8060" stroke-width="0.45"/>
<polyline points="320.3,398.8 327.2,393.7 335.8,392 341,386.8 348.3,390" fill="none" stroke="#5f8060" stroke-width="0.45"/>
<polyline points="335.8,392 334,402.3 337.5,407.5 344.4,410.9 347.9,414.3 352,411" fill="none" stroke="#5f8060" stroke-width="0.45"/>
<polyline points="340.8,447 335,444 325.9,444.5" fill="none" stroke="#5f8060" stroke-width="0.45"/>
<polyline points="389,416 398,418 405.2,423.3" fill="none" stroke="#5f8060" stroke-width="0.45"/>
<polyline points="376.8,432 390,426 405.2,423.3" fill="none" stroke="#5f8060" stroke-width="0.45"/>
<polyline points="318.2,352.4 330,350 343.1,349.5" fill="none" stroke="#5f8060" stroke-width="0.45"/>
<polyline points="309.1,431.8 317.1,429.8 323.8,428.5 331.9,433.8" fill="none" stroke="#5f8060" stroke-width="0.45"/>
<polyline points="317.1,432.5 314.5,440.5 315.8,444.5 322.5,448.5 324.5,452.6" fill="none" stroke="#5f8060" stroke-width="0.45"/>
<polyline points="330.5,397.7 337.2,401.7 334.5,408.4" fill="none" stroke="#5f8060" stroke-width="0.45"/>
<polyline points="337.2,401.7 343.9,400.4 347.9,395" fill="none" stroke="#5f8060" stroke-width="0.45"/>
<polyline points="365,333.2 372,338 378.8,343.8" fill="none" stroke="#5f8060" stroke-width="0.45"/>
<polyline points="375.4,335.4 378,343.4 378.7,350.1" fill="none" stroke="#5f8060" stroke-width="0.45"/>
<polyline points="402.8,355.4 403.5,363.5 410.2,363.5 416.9,362.1 420.9,360.8 423.5,355.4 426.2,351.4 431.6,350.7 435.6,348.7" fill="none" stroke="#5f8060" stroke-width="0.45"/>
<polyline points="420.9,360.8 423.5,364.8 424.9,368.8 430.2,371.5 434.3,370.2 439.1,371.8" fill="none" stroke="#5f8060" stroke-width="0.45"/>
<polyline points="424.9,368.8 426.2,376.9 428.9,383.5 427.6,390.2 424.9,395.6 426.2,400" fill="none" stroke="#5f8060" stroke-width="0.45"/>
<polyline points="423.5,391.6 416.9,393 411,394.3" fill="none" stroke="#5f8060" stroke-width="0.45"/>
<polyline points="370,358.1 376.7,357.4" fill="none" stroke="#5f8060" stroke-width="0.45"/>
<polyline points="378,382.2 374,386.2 370,388" fill="none" stroke="#5f8060" stroke-width="0.45"/>
<polyline points="399.5,370.2 402,375 405,379 407.5,382.9" fill="none" stroke="#5f8060" stroke-width="0.45"/>
<polyline points="420.4,355.1 425.7,352.4 432.4,350.4 440.4,352.4 447.1,355.1 447.1,359.1 441.8,361.1 440.4,365.8 439.1,369.1" fill="none" stroke="#5f8060" stroke-width="0.45"/>
<polyline points="420.4,355.1 421.7,361.8 423,367.1" fill="none" stroke="#5f8060" stroke-width="0.45"/>
<polyline points="447.1,359.1 453.8,359.8 455.2,363.1 456.5,366.5" fill="none" stroke="#5f8060" stroke-width="0.45"/>
<polyline points="459.8,367.1 465.9,364.5 469.9,361.8" fill="none" stroke="#5f8060" stroke-width="0.45"/>
<polyline points="432.4,372.5 428.4,379.2" fill="none" stroke="#5f8060" stroke-width="0.45"/>
<polyline points="439.1,380.5 436,386 434,393 436.4,400.6" fill="none" stroke="#5f8060" stroke-width="0.45"/>
<polyline points="402.1,350.7 406,346 410.2,340" fill="none" stroke="#5f8060" stroke-width="0.45"/>
<polyline points="394.1,348.7 392,342 391.4,336" fill="none" stroke="#5f8060" stroke-width="0.45"/>
<polyline points="426.2,342.7 423.5,348 420.4,355.1" fill="none" stroke="#5f8060" stroke-width="0.45"/>
<polyline points="306.7,456.1 294.9,461.1 289.9,469.8 286.2,474.8" fill="none" stroke="#5f8060" stroke-width="0.45"/>
<polyline points="287.4,475.4 297.4,478.5 307.3,478.5 311,481.6 318.5,482.2 324.7,481.6" fill="none" stroke="#5f8060" stroke-width="0.45"/>
<polygon points="317.3,302.6 321.1,301.7 325.9,303.6 331.6,306.5 337.4,307.4 342.1,309.3 346.0,313.2 348.8,314.1 357.4,314.1 362.2,317.0 364.1,323.7 365.0,333.2 367.0,337.0 371.8,336.1 375.6,333.2 378.8,334.3 387.6,335.4 394.2,337.6 397.5,334.3 400.8,340.9 405.2,340.9 414.0,339.8 422.8,342.0 431.6,345.3 436.0,346.4 440.4,340.9 447.0,338.7 458.0,336.5 471.1,338.7 473.3,344.2 478.8,346.4 480.0,349.7 477.7,355.2 472.2,355.2 469.0,359.6 470.0,366.2 473.3,371.7 475.5,377.2 474.4,386.0 471.1,392.6 464.5,395.9 458.0,397.0 449.2,399.2 442.6,403.6 433.8,406.9 425.0,412.0 419.0,417.5 414.9,421.4 410.9,426.8 408.2,431.4 405.6,433.4 398.9,435.5 392.2,437.5 382.8,440.1 373.4,442.8 366.8,444.1 361.4,446.2 353.4,448.8 348.0,450.8 342.1,453.2 335.0,449.9 328.4,457.4 323.4,463.6 319.7,468.5 316.0,472.3 316.0,476.0 318.5,474.8 322.2,476.6 325.3,479.7 324.7,482.2 317.2,487.8 310.4,490.3 304.8,493.4 302.3,495.2 299.8,495.9 297.4,492.1 291.1,488.4 287.4,485.9 287.4,482.2 285.0,479.7 280.6,477.9 283.7,476.0 286.8,472.3 287.4,468.5 286.8,463.6 287.4,458.6 286.2,453.6 284.3,448.7 284.9,446.2 288.7,442.5 292.4,438.7 295.5,437.5 297.4,430.8 294.9,422.1 296.1,413.5 294.9,402.3 297.4,394.8 303.6,387.4 308.6,380.0 311.0,375.0 314.4,371.5 318.2,367.7 318.2,362.0 319.2,352.4 321.1,342.8 321.1,339.0 319.2,333.2 322.1,327.5 320.2,321.8 318.2,314.1 316.3,308.4" fill="none" stroke="#6a8a55" stroke-width="0.5"/>
<polygon points="308,494 312,491 317,488.5 316,490.5 312,493 309,494.5" fill="#7db332" stroke="#6a8a55" stroke-width="0.4"/>
</svg>
<div class="t" style="left:355.3px;top:271.7px;font-size:8.2px;color:#222">Catalunya=101,4 %</div>
<div class="t" style="left:154.7px;top:366.5px;font-size:7.1px;font-weight:bold;line-height:8.1px;color:#000">% de llocs de treball localitzats<br>sobre població treballadora<br>resident, 2020</div>
<div class="sw" style="top:393.2px;background:#0c3d8a"></div><div class="lb" style="top:395.0px">&lt; 25 %</div>
<div class="sw" style="top:404.5px;background:#15828f"></div><div class="lb" style="top:406.3px">25 a 50 %</div>
<div class="sw" style="top:415.9px;background:#4daa6c"></div><div class="lb" style="top:417.7px">50 a 75 %</div>
<div class="sw" style="top:427.2px;background:#79b532"></div><div class="lb" style="top:429.0px">75 a 100 %</div>
<div class="sw" style="top:438.5px;background:#ede20b"></div><div class="lb" style="top:440.3px">100 a 125 %</div>
<div class="sw" style="top:449.8px;background:#f8bb0a"></div><div class="lb" style="top:451.6px">125 a 150 %</div>
<div class="sw" style="top:461.2px;background:#e87e0f"></div><div class="lb" style="top:463.0px">150 a 175 %</div>
<div class="sw" style="top:472.5px;background:#cf5e3a"></div><div class="lb" style="top:474.3px">&gt; 175 %</div>
<div style="position:absolute;left:26px;top:515px;width:4px;height:8px;background:#3d8a50"></div>
<div class="sc" style="left:144px;top:493.5px">0</div><div class="sc" style="left:173.4px;top:493.5px">25 km</div>
<div class="sc" style="left:433.2px;top:493.5px">0</div><div class="sc" style="left:450px;top:493.5px">25 km</div>
<svg width="609" height="523" style="position:absolute;left:0;top:0"><polyline points="145,501 145,503 176.6,503 176.6,501" fill="none" stroke="#777" stroke-width="0.7"/><polyline points="434.2,501 434.2,503 453.7,503 453.7,501" fill="none" stroke="#777" stroke-width="0.7"/></svg>
</body></html>
